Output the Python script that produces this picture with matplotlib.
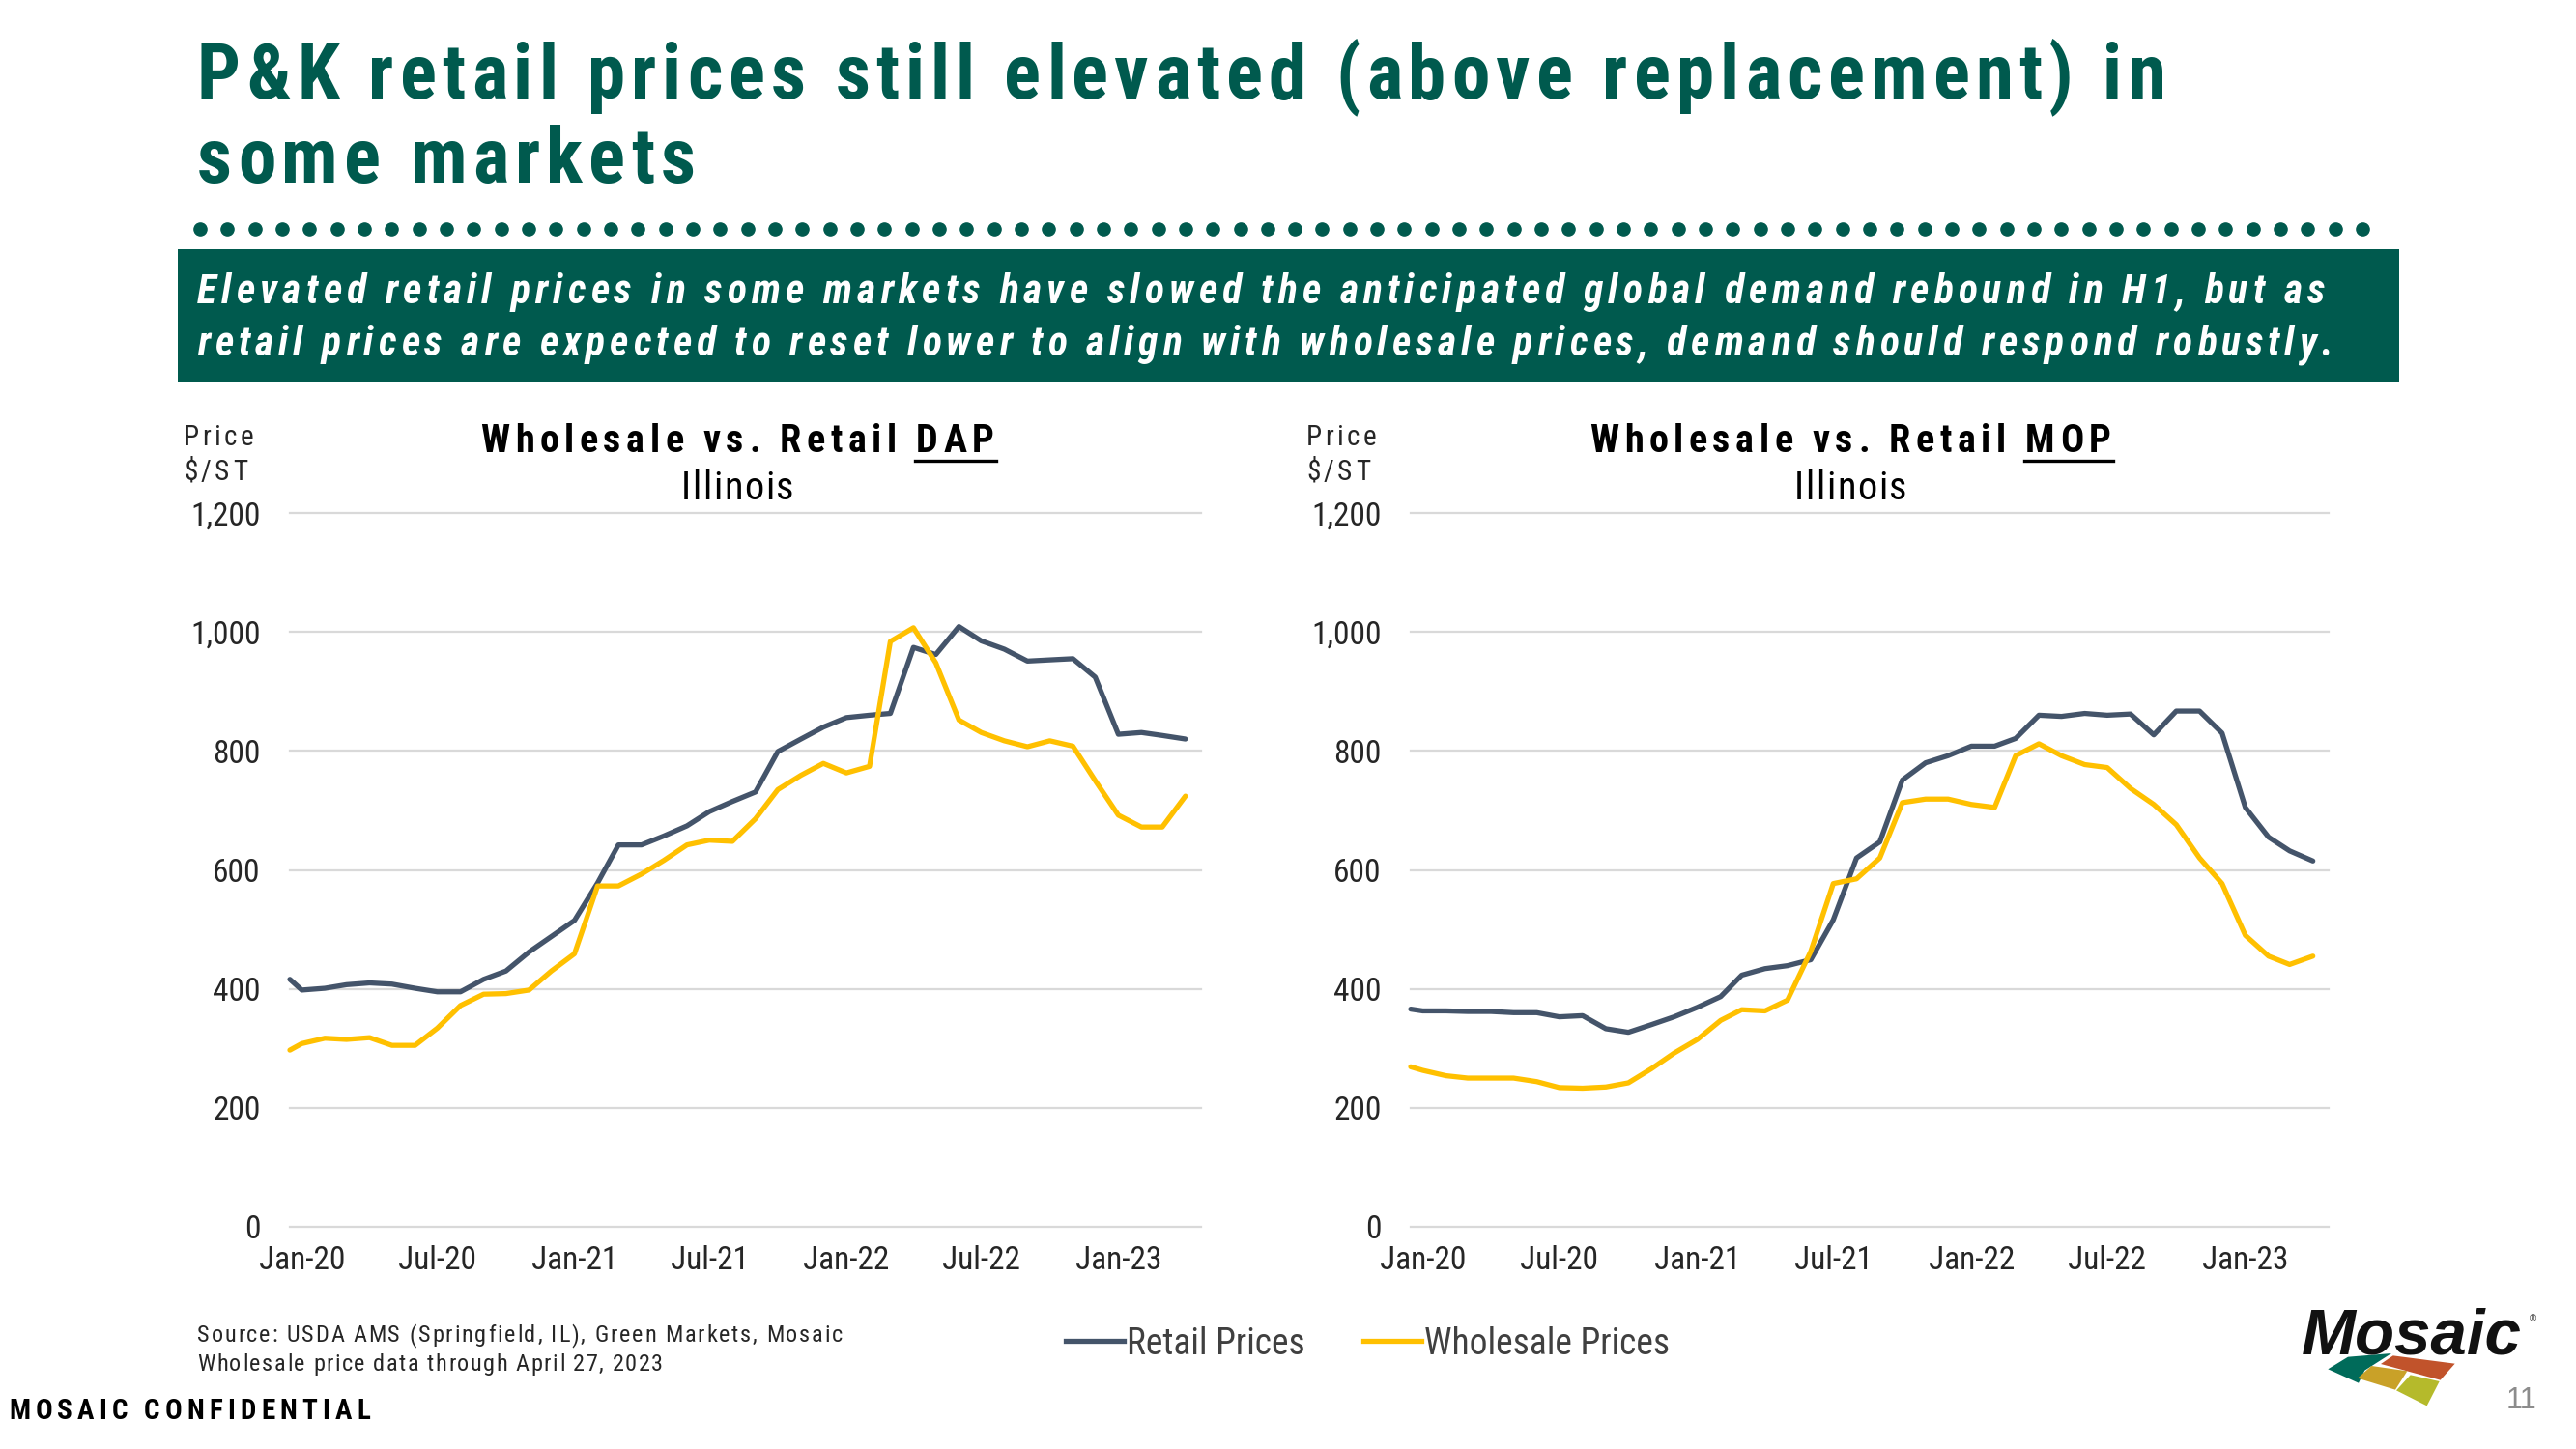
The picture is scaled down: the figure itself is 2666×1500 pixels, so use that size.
import numpy as np
import pandas as pd
import matplotlib
matplotlib.use("Agg")
import matplotlib.pyplot as plt
import matplotlib.dates as mdates
from matplotlib.ticker import FuncFormatter
from matplotlib.font_manager import FontProperties, findfont, get_font, fontManager
from matplotlib.patches import Rectangle, Polygon
from matplotlib.lines import Line2D

# ---------------- data ----------------
dates = ["2019-12-16"] + [f"{y}-{m:02d}-01" for y in range(2020, 2024) for m in range(1, 13)][:40]

dap_retail = [416,
              398, 401, 407, 410, 408, 401, 395, 395, 416, 430, 462, 488,
              515, 578, 642, 642, 657, 674, 698, 715, 731, 799, 820, 840,
              856, 860, 863, 974, 962, 1009, 985, 971, 951, 953, 955, 924,
              828, 831, 826, 820]
dap_wholesale = [297,
                 308, 317, 315, 318, 305, 305, 334, 372, 391, 392, 398, 430,
                 459, 573, 573, 593, 616, 642, 650, 648, 686, 735, 759, 779,
                 763, 774, 984, 1007, 948, 852, 831, 817, 807, 817, 808, 750,
                 692, 672, 672, 724]
mop_retail = [366,
              363, 363, 362, 362, 360, 360, 353, 355, 333, 327, 340, 353,
              369, 387, 423, 434, 439, 449, 516, 620, 647, 751, 780, 792,
              808, 808, 821, 860, 858, 863, 860, 862, 827, 867, 867, 830,
              705, 655, 632, 615]
mop_wholesale = [269,
                 263, 254, 250, 250, 250, 244, 234, 233, 235, 242, 266, 292,
                 315, 347, 365, 363, 381, 463, 577, 585, 620, 713, 719, 719,
                 710, 705, 792, 812, 792, 777, 772, 737, 710, 676, 620, 577,
                 490, 455, 441, 455]
series_names = ["Retail Prices", "Wholesale Prices"]
y_ticks = [0, 200, 400, 600, 800, 1000, 1200]

# ---------------- style ----------------
W, H = 2666, 1500
TEAL = "#005A4E"
RETAIL_C = "#44546A"
WHOLE_C = "#FFC000"
GRID_C = "#D9D9D9"
TXT = "#262626"

names = {f.name for f in fontManager.ttflist}
NARROW = next((n for n in ["Liberation Sans Narrow", "Arial Narrow", "Roboto Condensed",
                           "Liberation Sans"] if n in names), "DejaVu Sans")
WIDE = "Liberation Sans" if "Liberation Sans" in names else "DejaVu Sans"
plt.rcParams["font.family"] = [NARROW, "DejaVu Sans"]

fig = plt.figure(figsize=(W / 100, H / 100), dpi=100)
fig.patch.set_facecolor("white")


def fx(x):
    return x / W


def fy(y):
    return 1 - y / H


def advances(s, prop):
    font = get_font(findfont(prop))
    font.set_size(prop.get_size_in_points(), 100)
    return [font.load_char(ord(c)).linearHoriAdvance / 65536 for c in s]


def spaced(x, y, s, prop, color, width=None, spacing=0.0, ha="left"):
    adv = advances(s, prop)
    if width is not None:
        spacing = (width - sum(adv)) / max(len(s) - 1, 1)
    total = sum(adv) + spacing * (len(s) - 1)
    x0 = x - total / 2 if ha == "center" else (x - total if ha == "right" else x)
    pos = []
    cx = x0
    for c, a in zip(s, adv):
        pos.append(cx)
        if not c.isspace():
            fig.text(fx(cx), fy(y), c, fontproperties=prop, color=color,
                     ha="left", va="baseline")
        cx += a + spacing
    return pos, adv, spacing


def fp(size, weight="normal", style="normal", family=None):
    return FontProperties(family=[family or NARROW], weight=weight, style=style, size=size)


# ---------------- header ----------------
title_prop = fp(57, "bold")
_, _, tsp = spaced(204, 102, "P&K retail prices still elevated (above replacement) in",
                   title_prop, TEAL, width=2037)
spaced(204, 189, "some markets", title_prop, TEAL, spacing=tsp)

dot_x = np.linspace(fx(207), fx(2445), 80)
fig.add_artist(Line2D(dot_x, [fy(237)] * len(dot_x), transform=fig.transFigure,
                      ls="none", marker="o", ms=9.5, color=TEAL, mec=TEAL))

fig.add_artist(Rectangle((fx(184), fy(395)), fx(2483) - fx(184), fy(258) - fy(395),
                         transform=fig.transFigure, color=TEAL, lw=0))
box_prop = fp(30, "bold", "italic")
spaced(204, 314, "Elevated retail prices in some markets have slowed the anticipated global demand rebound in H1, but as",
       box_prop, "white", width=2202)
spaced(204, 368, "retail prices are expected to reset lower to align with wholesale prices, demand should respond robustly.",
       box_prop, "white", width=2210)

# ---------------- charts ----------------
x = pd.to_datetime(dates)
xmin, xmax = pd.Timestamp("2019-12-16"), pd.Timestamp("2023-04-22")

panels = [
    dict(left=300, right=1243, retail=dap_retail, whole=dap_wholesale, prod="DAP",
         tcenter=763, twidth=531, lab=190),
    dict(left=1460, right=2410, retail=mop_retail, whole=mop_wholesale, prod="MOP",
         tcenter=1915, twidth=539, lab=1352),
]
top, bottom = 531, 1270

for p in panels:
    ax = fig.add_axes([fx(p["left"]), fy(bottom), fx(p["right"]) - fx(p["left"]),
                       fy(top) - fy(bottom)])
    ax.plot(x, p["retail"], color=RETAIL_C, lw=3.8, solid_joinstyle="round",
            solid_capstyle="round", clip_on=False, zorder=3)
    ax.plot(x, p["whole"], color=WHOLE_C, lw=3.8, solid_joinstyle="round",
            solid_capstyle="round", clip_on=False, zorder=3)
    ax.set_xlim(xmin, xmax)
    ax.set_ylim(0, 1200)
    ax.set_yticks(y_ticks)
    ax.yaxis.set_major_formatter(FuncFormatter(lambda v, _: f"{int(v):,}"))
    ax.xaxis.set_major_locator(mdates.MonthLocator(bymonth=[1, 7]))
    ax.xaxis.set_major_formatter(mdates.DateFormatter("%b-%y"))
    ax.grid(axis="y", color=GRID_C, lw=1.6)
    ax.set_axisbelow(True)
    for gl in ax.get_ygridlines():
        gl.set_clip_on(False)
    for s in ax.spines.values():
        s.set_visible(False)
    ax.tick_params(axis="y", length=0, pad=22, labelsize=24, labelcolor=TXT)
    ax.tick_params(axis="x", length=0, pad=14, labelsize=24, labelcolor=TXT)
    ax.set_facecolor("none")

    # chart titles
    tprop = fp(29, "bold")
    s = "Wholesale vs. Retail " + p["prod"]
    pos, adv, _ = spaced(p["tcenter"], 468, s, tprop, "black", width=p["twidth"], ha="center")
    fig.add_artist(Line2D([fx(pos[-3] - 1), fx(pos[-1] + adv[-1] + 2)], [fy(477), fy(477)],
                          transform=fig.transFigure, color="black", lw=2.4))
    spaced(p["tcenter"], 517, "Illinois", fp(29), "black", width=117, ha="center")
    spaced(p["lab"], 461, "Price", fp(21), TXT, width=72)
    spaced(p["lab"], 497, "$/ST", fp(21), TXT, width=66)

# legend
handles = [Line2D([], [], color=RETAIL_C, lw=3.8), Line2D([], [], color=WHOLE_C, lw=3.8)]
leg = fig.legend(handles, series_names, loc="center left",
                 bbox_to_anchor=(fx(1103), fy(1391)), ncol=2, frameon=False,
                 prop=fp(27), handlelength=1.6, handletextpad=0.08, columnspacing=1.6,
                 borderpad=0, borderaxespad=0)
for t in leg.get_texts():
    t.set_color("#404040")

# ---------------- footer ----------------
spaced(204, 1389, "Source: USDA AMS (Springfield, IL), Green Markets, Mosaic", fp(17.5), TXT, width=668)
spaced(204, 1419, "Wholesale price data through April 27, 2023", fp(17.5), TXT, width=482)
spaced(9, 1469, "MOSAIC CONFIDENTIAL", fp(21, "bold"), "black", width=374)

# logo
logo_prop = FontProperties(family=[WIDE], weight="bold", style="italic", size=54)
logo_size = 54 * 228 / sum(advances("Mosaic", logo_prop))
fig.text(fx(2382), fy(1402), "Mosaic", color="#111111", ha="left", va="baseline",
         fontproperties=FontProperties(family=[WIDE], weight="bold", style="italic",
                                       size=logo_size))
fig.text(fx(2618), fy(1368), "\u00ae", fontsize=7, color="#333333", family=[WIDE])


def tile(pts, color):
    xy = [(fx(2360 + a / 3), fy(1330 + b / 3)) for a, b in pts]
    fig.add_artist(Polygon(xy, closed=True, transform=fig.transFigure, color=color, lw=0))


tile([(148, 262), (210, 224), (345, 213), (262, 266), (243, 305)], "#006B5A")
tile([(350, 220), (542, 245), (497, 296), (312, 246)], "#C1532B")
tile([(283, 252), (394, 268), (357, 326), (240, 290)], "#C9A128")
tile([(404, 280), (494, 300), (455, 376), (360, 328)], "#B5BA2B")
fig.text(fx(2610), fy(1458), "11", fontsize=22, color="#8C8C8C", ha="center",
         va="baseline", family=[WIDE])

fig.savefig("out.png", dpi=100, facecolor="white")
